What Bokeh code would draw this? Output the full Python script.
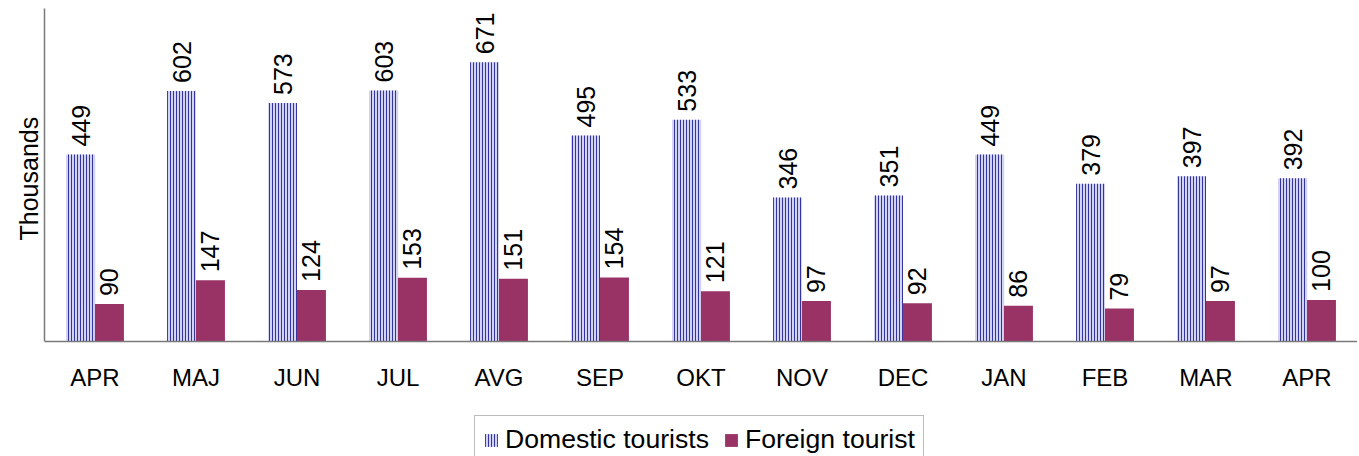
import numpy as np
from bokeh.plotting import figure
from bokeh.models import ColumnDataSource, Legend, LegendItem, FixedTicker, Range1d, Title
from bokeh.core.properties import value
from bokeh.embed import file_html
from bokeh.resources import INLINE

months = ["APR", "MAJ", "JUN", "JUL", "AVG", "SEP", "OKT", "NOV", "DEC", "JAN", "FEB", "MAR", "APR"]
domestic = [449, 602, 573, 603, 671, 495, 533, 346, 351, 449, 379, 397, 392]
foreign = [90, 147, 124, 153, 151, 154, 121, 97, 92, 86, 79, 97, 100]

FONT = "Liberation Sans"
n = len(months)
xc = np.arange(n) + 0.5
src = ColumnDataSource(dict(
    xd=xc - 0.143, xf=xc + 0.143,
    dom=domestic, forn=foreign,
    dl=[str(v) for v in domestic], fl=[str(v) for v in foreign],
))

YMAX = 800
PLOT_H = 333        # pixel height of the value area (0..YMAX)
FRAME_H = 448       # frame extends below the baseline for labels + legend
ymin = YMAX - FRAME_H * YMAX / PLOT_H

p = figure(frame_width=1313, frame_height=FRAME_H, output_backend="svg", toolbar_location=None,
           x_range=Range1d(0, n), y_range=Range1d(ymin, YMAX),
           min_border_left=44, min_border_right=0, min_border_top=8, min_border_bottom=0)
p.outline_line_color = None
p.xgrid.visible = False
p.ygrid.visible = False
p.background_fill_color = "white"
p.border_fill_color = "white"

r_dom = p.vbar(x="xd", top="dom", width=0.287, source=src,
               fill_color="#d2d2f2", line_color=None,
               hatch_pattern="vertical_line", hatch_color="#3535a0",
               hatch_scale=3, hatch_weight=1.0)
r_for = p.vbar(x="xf", top="forn", width=0.287, source=src,
               fill_color="#993366", line_color=None)

for xk, yk, tk in (("xd", "dom", "dl"), ("xf", "forn", "fl")):
    p.text(x=xk, y=yk, text=tk, source=src, angle=np.pi / 2,
           text_align="left", text_baseline="middle", y_offset=-8,
           text_font=value(FONT), text_font_size="25px", text_color="black")

# x axis at the value baseline
p.xaxis.fixed_location = 0
p.xaxis.ticker = FixedTicker(ticks=list(xc))
p.xaxis.major_label_overrides = {float(x): m for x, m in zip(xc, months)}
p.xaxis.major_tick_line_color = None
p.xaxis.minor_tick_line_color = None
p.xaxis.major_label_standoff = 16
p.xaxis.major_label_text_font = FONT
p.xaxis.major_label_text_font_size = "24px"
p.xaxis.major_label_text_color = "black"
p.xaxis.axis_line_color = "#7a7a7a"
p.xaxis.axis_line_width = 1.5

# y axis
p.yaxis.ticker = FixedTicker(ticks=[])
p.yaxis.bounds = (0, YMAX)
p.yaxis.major_tick_line_color = None
p.yaxis.minor_tick_line_color = None
p.yaxis.axis_line_color = "#7a7a7a"
p.yaxis.axis_line_width = 1.5

ylab = Title(text="Thousands", align="left", offset=216,
             text_font=FONT, text_font_size="25px", text_font_style="normal",
             text_color="black", standoff=4)
p.add_layout(ylab, "left")

legend = Legend(items=[LegendItem(label="Domestic tourists", renderers=[r_dom]),
                       LegendItem(label="Foreign tourist", renderers=[r_for])],
                orientation="horizontal", location=(430, -8),
                label_text_font=FONT, label_text_font_size="26.6px",
                label_text_color="black", glyph_width=16, glyph_height=16,
                label_standoff=6, spacing=14, padding=8, margin=0,
                border_line_color="#7a7a7a", border_line_width=1,
                background_fill_alpha=0)
p.add_layout(legend, "center")

open("out.html", "w").write(file_html(p, INLINE))
